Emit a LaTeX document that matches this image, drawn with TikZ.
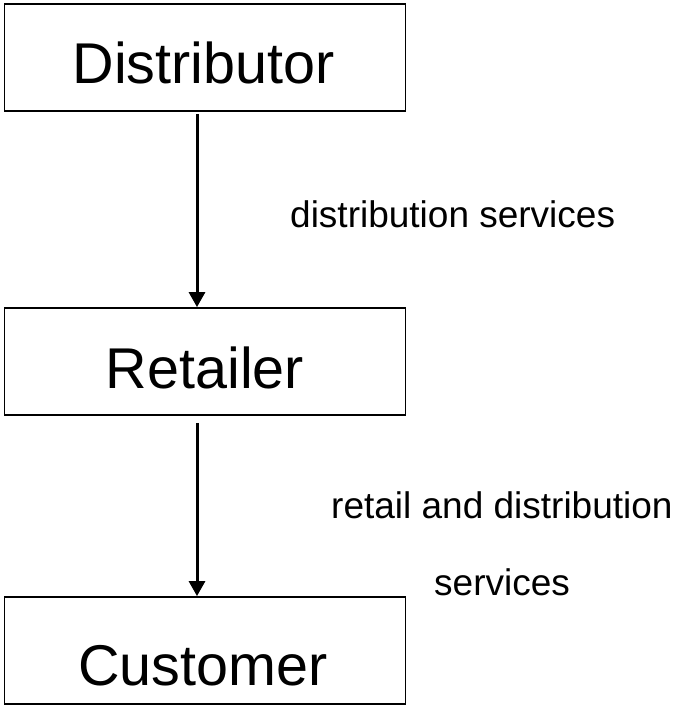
\documentclass[tikz,border=0pt]{standalone}
\usepackage{fontspec}
\setmainfont{Liberation Sans}
\usetikzlibrary{arrows.meta}
\begin{document}
\begin{tikzpicture}[x=1pt,y=-1pt,
  box/.style={draw=black,line width=1.8pt,minimum width=401pt,minimum height=107pt,inner sep=0pt},
  title/.style={anchor=base,font=\fontsize{57.5}{60}\selectfont,inner sep=0pt},
  flowlabel/.style={anchor=base west,font=\fontsize{37}{40}\selectfont,inner sep=0pt},
  flow/.style={line width=3pt,-{Triangle[length=15pt,width=16pt]}}]
\useasboundingbox (0,0) rectangle (674,705);
% boxes
\node[box] (dist) at (205,57.5) {};
\node[box] (ret)  at (205,361.5) {};
\node[box] (cust) at (205,650.5) {};
% box titles
\node[title] (distT) at (203.5,83) {Distributor};
\node[title] (retT)  at (205,388) {Retailer};
\node[title] (custT) at (203,685) {Customer};
% connectors
\draw[flow,shorten <=2pt] ([xshift=-8pt]dist.south) -- ([xshift=-8pt]ret.north);
\draw[flow,shorten <=7pt] ([xshift=-8pt]ret.south) -- ([xshift=-8pt]cust.north);
% connector labels
\node[flowlabel] (l1) at (290,227) {distribution services};
\node[flowlabel] (l2) at (331,518) {retail and distribution};
\node[flowlabel] (l3) at (434,595) {services};
\end{tikzpicture}
\end{document}
